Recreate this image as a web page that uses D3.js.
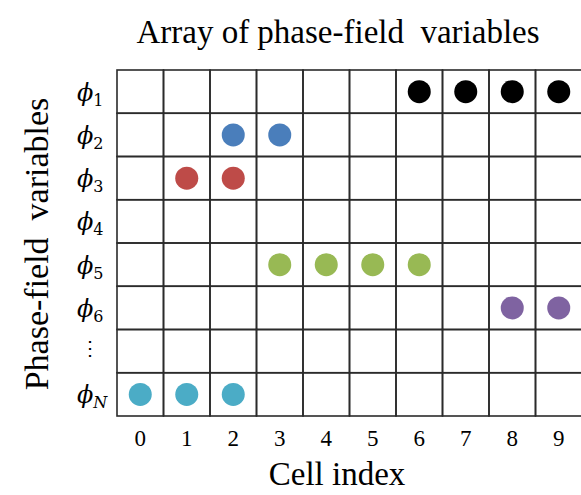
<!DOCTYPE html>
<html>
<head>
<meta charset="utf-8">
<script src="https://cdn.jsdelivr.net/npm/d3@7"></script>
<style>
  body { margin: 0; background: #fff; }
  text { white-space: pre; }
</style>
</head>
<body>
<script>
var width = 581, height = 495;

// data
var cells = ["0", "1", "2", "3", "4", "5", "6", "7", "8", "9"];
var rows = ["1", "2", "3", "4", "5", "6", "dots", "N"];
var occupied = [
  {row: "1", cells: [6, 7, 8, 9], color: "#000000"},
  {row: "2", cells: [2, 3], color: "#4a7ebb"},
  {row: "3", cells: [1, 2], color: "#be4b48"},
  {row: "5", cells: [3, 4, 5, 6], color: "#98b954"},
  {row: "6", cells: [8, 9], color: "#7f63a1"},
  {row: "N", cells: [0, 1, 2], color: "#4bacc6"}
];

var grid = {left: 117, top: 70, right: 582, bottom: 416};
var serif = "Liberation Serif, Times New Roman, serif";

var svg = d3.select("body").append("svg")
    .attr("width", width)
    .attr("height", height);

var x = d3.scaleBand().domain(cells).range([grid.left, grid.right]);
var y = d3.scaleBand().domain(rows).range([grid.top, grid.bottom]);

// cells
var g = svg.append("g");
rows.forEach(function(r) {
  g.selectAll(null)
    .data(cells)
    .enter()
    .append("rect")
      .attr("x", function(c) { return x(c); })
      .attr("y", y(r))
      .attr("width", x.bandwidth())
      .attr("height", y.bandwidth())
      .attr("fill", "none")
      .attr("stroke", "#2b2b2b")
      .attr("stroke-width", 1.6);
});

// dots
var pts = [];
occupied.forEach(function(o) {
  o.cells.forEach(function(c) { pts.push({row: o.row, cell: String(c), color: o.color}); });
});
svg.append("g").selectAll("circle")
  .data(pts)
  .enter()
  .append("circle")
    .attr("cx", function(d) { return x(d.cell) + x.bandwidth() / 2; })
    .attr("cy", function(d) { return y(d.row) + y.bandwidth() / 2; })
    .attr("r", 11.5)
    .attr("fill", function(d) { return d.color; });

// x tick labels
svg.append("g").selectAll("text")
  .data(cells)
  .enter()
  .append("text")
    .attr("x", function(c) { return x(c) + x.bandwidth() / 2; })
    .attr("y", 446)
    .attr("text-anchor", "middle")
    .attr("font-family", serif)
    .attr("font-size", 23)
    .text(function(c) { return c; });

// row labels
var rl = svg.append("g").selectAll("text")
  .data(rows)
  .enter()
  .append("text")
    .attr("x", 77)
    .attr("y", function(r) { return y(r) + y.bandwidth() / 2 + 9; })
    .attr("font-family", "DejaVu Serif, serif")
    .attr("font-size", 24);
rl.each(function(r) {
  var t = d3.select(this);
  if (r === "dots") {
    t.attr("x", 90).attr("text-anchor", "middle").attr("font-size", 20)
      .attr("y", y(r) + y.bandwidth() / 2 + 4).text("⋮");
  } else {
    t.append("tspan").attr("font-style", "italic").text("ϕ");
    t.append("tspan").attr("font-size", 16).attr("dy", 5)
      .attr("font-style", r === "N" ? "italic" : "normal")
      .text(r);
  }
});

// titles
svg.append("text")
  .attr("x", 338).attr("y", 43)
  .attr("text-anchor", "middle")
  .attr("font-family", serif)
  .attr("font-size", 33)
  .text("Array of phase-field  variables");

svg.append("text")
  .attr("x", 337).attr("y", 485)
  .attr("text-anchor", "middle")
  .attr("font-family", serif)
  .attr("font-size", 33)
  .text("Cell index");

svg.append("text")
  .attr("transform", "translate(48,244) rotate(-90)")
  .attr("text-anchor", "middle")
  .attr("font-family", serif)
  .attr("font-size", 34)
  .text("Phase-field  variables");
</script>
</body>
</html>
